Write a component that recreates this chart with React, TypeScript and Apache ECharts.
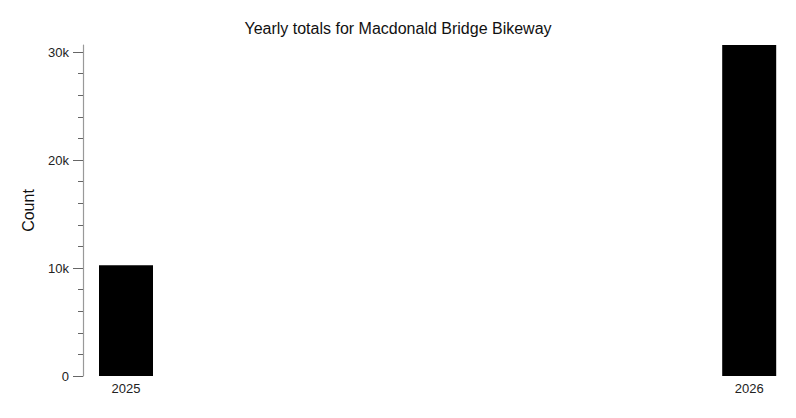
import React, { useEffect, useRef } from "react";
import * as echarts from "echarts";

const years = [2025, 2026];
const totals = [10250, 30650];
const yTicks = [0, 10000, 20000, 30000];

export default function App() {
  const ref = useRef<HTMLDivElement>(null);
  useEffect(() => {
    const chart = echarts.init(ref.current!, null, { renderer: "svg" });
    chart.setOption({
      animation: false,
      textStyle: { fontFamily: "Liberation Sans, Arial, sans-serif" },
      title: {
        text: "Yearly totals for Macdonald Bridge Bikeway",
        left: "center",
        top: 15,
        textStyle: { fontSize: 16, fontWeight: "normal", color: "#111" },
      },
      grid: { left: 83, right: 20, top: 45, bottom: 42 },
      xAxis: {
        type: "value",
        min: 2024.931,
        max: 2026.043,
        axisLine: { show: false },
        splitLine: { show: false },
        axisTick: { show: false },
        axisLabel: {
          customValues: years,
          formatter: (v: number) => String(v),
          fontSize: 13,
          color: "#222",
          margin: 6,
        },
      },
      yAxis: {
        type: "value",
        min: 0,
        max: 30650,
        interval: 10000,
        name: "Count",
        nameLocation: "middle",
        nameGap: 47,
        nameTextStyle: { fontSize: 16, color: "#111" },
        splitLine: { show: false },
        axisLine: { show: true, lineStyle: { color: "#999", width: 1.2 } },
        axisTick: { show: true, length: 10, lineStyle: { color: "#666" }, customValues: yTicks },
        minorTick: { show: true, splitNumber: 5, length: 5, lineStyle: { color: "#666" } },
        axisLabel: {
          customValues: yTicks,
          fontSize: 13,
          color: "#222",
          margin: 14,
          formatter: (v: number) => (v === 0 ? "0" : v / 1000 + "k"),
        },
      },
      series: [
        {
          type: "bar",
          barWidth: 54,
          itemStyle: { color: "#000" },
          data: years.map((y, i) => [y, totals[i]]),
        },
      ],
    });
    return () => chart.dispose();
  }, []);
  return <div ref={ref} style={{ width: 796, height: 418, position: "absolute", left: 0, top: 0 }} />;
}
